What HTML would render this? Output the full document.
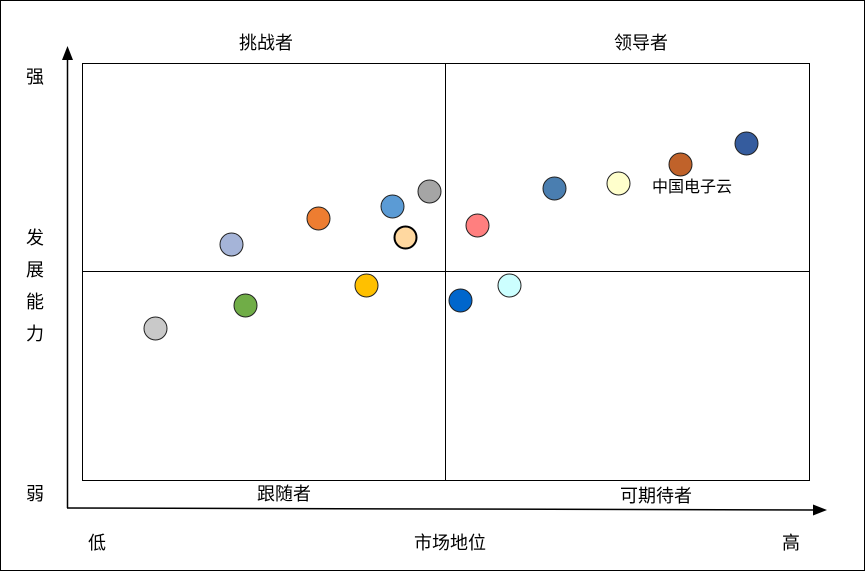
<!DOCTYPE html>
<html><head><meta charset="utf-8"><style>
body{margin:0;background:#fff}
svg text{font-family:"Liberation Sans","Noto Sans CJK SC",sans-serif;font-size:18px;fill:#000}
</style></head><body>
<svg width="865" height="571" xmlns="http://www.w3.org/2000/svg">
<rect x="0.5" y="0.5" width="864" height="570" fill="#fff" stroke="#000"/>
<rect x="82.5" y="63.5" width="727" height="417" fill="none" stroke="#000"/>
<line x1="445.5" y1="63" x2="445.5" y2="480" stroke="#000"/>
<line x1="82" y1="271.5" x2="809" y2="271.5" stroke="#000"/>
<line x1="67.5" y1="508" x2="67.5" y2="58" stroke="#000" stroke-width="1.5"/>
<polygon points="67.5,46 62,60 73,60" fill="#000"/>
<line x1="67" y1="508" x2="815" y2="510" stroke="#000" stroke-width="1.5"/>
<polygon points="827,510 813,504.5 813,515.5" fill="#000"/>
<text x="266" y="49" text-anchor="middle">挑战者</text>
<text x="641" y="49" text-anchor="middle">领导者</text>
<text x="284" y="500" text-anchor="middle">跟随者</text>
<text x="656" y="502" text-anchor="middle">可期待者</text>
<text x="35" y="83" text-anchor="middle">强</text>
<text x="35" y="244" text-anchor="middle">发</text>
<text x="35" y="276" text-anchor="middle">展</text>
<text x="35" y="308" text-anchor="middle">能</text>
<text x="35" y="340" text-anchor="middle">力</text>
<text x="35" y="500" text-anchor="middle">弱</text>
<text x="97" y="549" text-anchor="middle">低</text>
<text x="450" y="549" text-anchor="middle">市场地位</text>
<text x="791" y="549" text-anchor="middle">高</text>
<text x="692" y="192" text-anchor="middle" style="font-size:16px">中国电子云</text>
<g stroke="#222" stroke-width="1">
<circle cx="155.5" cy="328.5" r="11.5" fill="#c9c9c9"/>
<circle cx="245.5" cy="305.5" r="11.5" fill="#70ad47"/>
<circle cx="231.5" cy="244.5" r="11.5" fill="#a5b4d8"/>
<circle cx="318.5" cy="218.5" r="11.5" fill="#ed7d31"/>
<circle cx="392.5" cy="206.5" r="11.5" fill="#5b9bd5"/>
<circle cx="429.5" cy="191.5" r="11.5" fill="#a5a5a5"/>
<circle cx="405.5" cy="237.5" r="11" fill="#ffd8a0" stroke="#000" stroke-width="2"/>
<circle cx="366.5" cy="285.5" r="11.5" fill="#ffc000"/>
<circle cx="477.5" cy="225.5" r="11.5" fill="#ff7f7f"/>
<circle cx="460.5" cy="300.5" r="11.5" fill="#0066cc"/>
<circle cx="509.5" cy="285.5" r="11.5" fill="#ccffff"/>
<circle cx="554.5" cy="188.5" r="11.5" fill="#4a7eb0"/>
<circle cx="618.5" cy="183.5" r="11.5" fill="#ffffcc"/>
<circle cx="680.5" cy="164.5" r="11.5" fill="#c0622a"/>
<circle cx="746.5" cy="143.5" r="11.5" fill="#355c9e"/>
</g>
</svg>
</body></html>
